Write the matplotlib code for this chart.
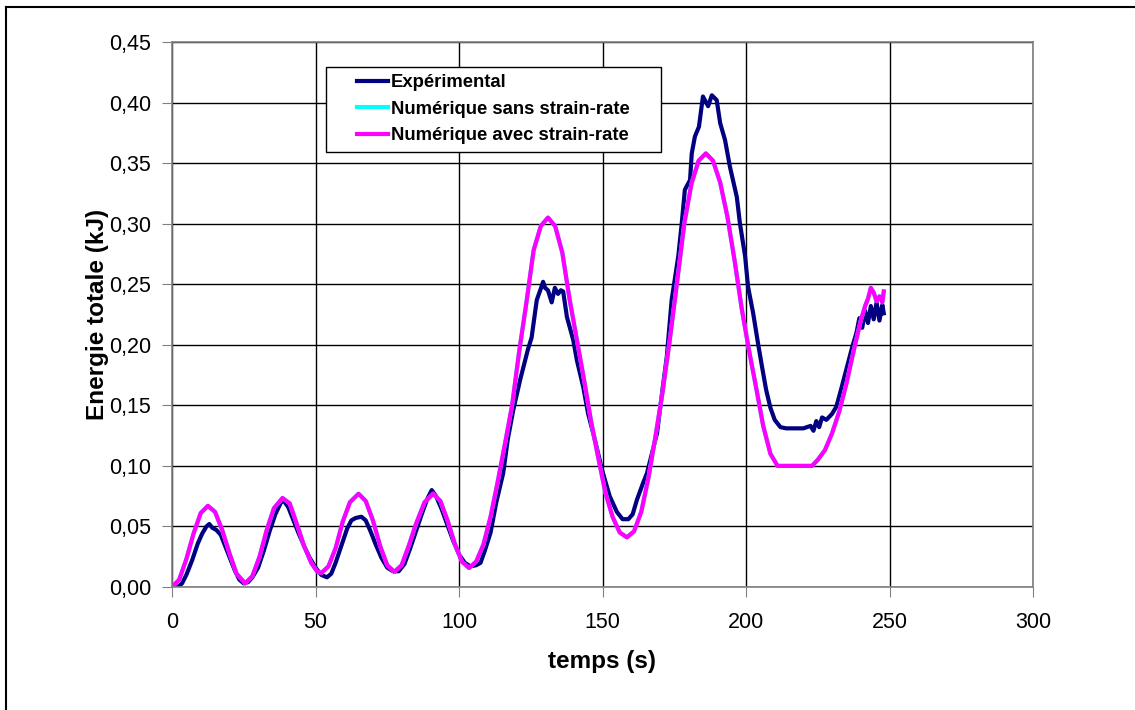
import numpy as np
import matplotlib.pyplot as plt
from matplotlib.lines import Line2D
from matplotlib.patches import Rectangle

plt.rcParams['font.family'] = ['Liberation Sans', 'DejaVu Sans']

# Experimental curve: (temps s, energie kJ)
exp_pts = [(0, 0.0), (2, 0.0), (3.5, 0.003), (5, 0.010), (7, 0.022), (9, 0.036),
           (10.5, 0.044), (12, 0.050), (13, 0.052), (14, 0.049), (15.5, 0.047),
           (17, 0.043), (18.5, 0.034), (20, 0.025), (22, 0.013), (23.5, 0.006),
           (25, 0.003), (26.5, 0.004), (28, 0.008), (30, 0.016), (32, 0.030),
           (34, 0.046), (36, 0.060), (38, 0.070), (39, 0.071), (40.5, 0.066),
           (42, 0.057), (44, 0.045), (46, 0.034), (48, 0.024), (50, 0.016),
           (52, 0.010), (54, 0.008), (55.5, 0.011), (57, 0.020), (59, 0.034),
           (61, 0.048), (62.5, 0.055), (64, 0.057), (66, 0.058), (67.5, 0.055),
           (69, 0.047), (71, 0.035), (73, 0.024), (75, 0.016), (77, 0.013),
           (79, 0.013), (81, 0.019), (83, 0.032), (85, 0.046), (87, 0.060),
           (89, 0.073), (90.5, 0.080), (92, 0.075), (94, 0.064), (96, 0.051),
           (98, 0.038), (100, 0.027), (102, 0.020), (104, 0.017), (106, 0.018),
           (107.5, 0.020), (109, 0.030), (111, 0.045), (113, 0.070), (115.4, 0.094),
           (117, 0.122), (118.9, 0.146), (121.3, 0.171), (124, 0.196), (125.3, 0.206),
           (127.1, 0.237), (128.3, 0.245), (129.3, 0.252), (130, 0.247), (131, 0.245),
           (132.3, 0.235), (133.4, 0.247), (134.5, 0.242), (135.5, 0.245),
           (136.3, 0.244), (137.6, 0.223), (139.8, 0.204), (141.1, 0.187),
           (143.3, 0.165), (145, 0.143), (147.4, 0.121), (149.8, 0.097),
           (152.5, 0.075), (155, 0.062), (157, 0.056), (159, 0.056), (160.5, 0.060),
           (162, 0.072), (164, 0.085), (165.5, 0.094), (167, 0.108), (169, 0.127),
           (171, 0.165), (172.4, 0.190), (174.1, 0.237), (176.4, 0.273),
           (177.6, 0.300), (178.7, 0.328), (180.5, 0.336), (181.1, 0.358),
           (182.2, 0.372), (183.6, 0.380), (185, 0.405), (186.8, 0.397),
           (188.1, 0.406), (189.8, 0.402), (191, 0.383), (192.7, 0.369),
           (194.4, 0.347), (196.8, 0.322), (197.9, 0.300), (199.7, 0.273),
           (200.7, 0.248), (202.5, 0.226), (204.2, 0.201), (205.5, 0.183),
           (207, 0.163), (208.5, 0.148), (210, 0.138), (212, 0.132), (214, 0.131),
           (217, 0.131), (220, 0.131), (222.5, 0.133), (223.5, 0.129),
           (224.5, 0.137), (225.5, 0.132), (226.5, 0.140), (228, 0.138),
           (230, 0.143), (231.5, 0.149), (233, 0.162), (235, 0.180), (237, 0.198),
           (238.5, 0.210), (239.5, 0.222), (240.5, 0.214), (241.5, 0.228),
           (242.5, 0.218), (243.5, 0.232), (244.5, 0.221), (245.5, 0.235),
           (246.5, 0.220), (247.5, 0.233), (248, 0.226)]

# Numerical curve (sans / avec strain-rate overlap)
num_pts = [(0, 0.0), (2.5, 0.006), (5, 0.023), (7.5, 0.044), (10, 0.061),
           (12.5, 0.067), (15, 0.062), (17.5, 0.047), (20, 0.028), (22.5, 0.011),
           (25.5, 0.003), (28, 0.009), (30.5, 0.025), (33, 0.047), (35.5, 0.065),
           (38.5, 0.0735), (41, 0.069), (43.5, 0.052), (46, 0.034), (48.5, 0.020),
           (50.5, 0.013), (52, 0.0115), (54.5, 0.017), (57, 0.032), (59.5, 0.054),
           (62, 0.070), (65, 0.077), (67.5, 0.071), (70, 0.055), (72.5, 0.034),
           (75, 0.018), (77.5, 0.0125), (80, 0.018), (82.5, 0.034), (85, 0.052),
           (88, 0.070), (91, 0.077), (93.5, 0.071), (96, 0.055), (98.5, 0.036),
           (101, 0.021), (103.5, 0.0157), (106, 0.021), (108.5, 0.035), (111, 0.058),
           (113.5, 0.087), (116, 0.118), (118.5, 0.150), (121, 0.195), (123.5, 0.235),
           (126, 0.278), (128.5, 0.298), (131, 0.305), (133.5, 0.298), (136, 0.276),
           (138.5, 0.238), (141, 0.205), (143.5, 0.172), (146, 0.137), (148.5, 0.107),
           (151, 0.078), (153.5, 0.058), (156, 0.045), (158.5, 0.041), (161, 0.046),
           (163.5, 0.062), (166, 0.090), (168.5, 0.125), (171, 0.162), (173.5, 0.205),
           (176, 0.252), (178.5, 0.300), (181, 0.333), (183.5, 0.352), (186, 0.358),
           (188.5, 0.352), (191, 0.334), (193.5, 0.306), (196, 0.270), (198.5, 0.230),
           (201, 0.196), (203.5, 0.165), (206, 0.133), (208.5, 0.110), (211, 0.100),
           (214, 0.100), (217, 0.100), (220, 0.100), (223, 0.100), (225, 0.105),
           (227.5, 0.113), (230, 0.127), (232.5, 0.145), (235, 0.168), (237.5, 0.195),
           (240, 0.220), (241.5, 0.232), (242.5, 0.238), (243.5, 0.247),
           (244.5, 0.243), (245.5, 0.236), (246.5, 0.240), (247.5, 0.235), (248, 0.244)]

t_exp, e_exp = zip(*exp_pts)
t_num, e_num = zip(*num_pts)

fig = plt.figure(figsize=(11.35, 7.10), dpi=100)
ax = fig.add_axes([172 / 1135, 1 - 587 / 710, (1033 - 172) / 1135, (587 - 42) / 710])

ax.plot(t_exp, e_exp, color='#000080', lw=3, label='Expérimental')
ax.plot(t_num, e_num, color='#00FFFF', lw=3, label='Numérique sans strain-rate')
ax.plot(t_num, e_num, color='#FF00FF', lw=3, label='Numérique avec strain-rate')

ax.set_xlim(0, 300)
ax.set_ylim(0, 0.45)
ax.set_xticks(np.arange(0, 301, 50))
yt = np.arange(0, 0.451, 0.05)
ax.set_yticks(yt)
ax.set_yticklabels([f'{v:.2f}'.replace('.', ',') for v in yt])
ax.grid(True, color='black', lw=1)
ax.set_axisbelow(True)
for s in ax.spines.values():
    s.set_color('#808080')
    s.set_linewidth(1.2)
ax.tick_params(direction='out', length=7, color='#808080', labelsize=15.5)
ax.tick_params(axis='y', pad=8)
ax.tick_params(axis='x', pad=11)

ax.set_xlabel('temps (s)', fontsize=17.5, fontweight='bold', labelpad=12)
ax.set_ylabel('Energie totale (kJ)', fontsize=17.5, fontweight='bold', labelpad=0)

# legend box drawn by hand (wide side margins as in the original)
W, H = 861, 545
box = Rectangle(((326 - 172) / W, (587 - 152) / H), (661 - 326) / W, (152 - 67) / H,
                transform=ax.transAxes, facecolor='white', edgecolor='black',
                lw=1, zorder=4)
ax.add_patch(box)
leg = ax.legend(loc='upper left', bbox_to_anchor=((357 - 172) / W, 1 - (74 - 42) / H),
                frameon=False, prop={'weight': 'bold', 'size': 13.3},
                handlelength=1.7, handletextpad=0.15, borderpad=0,
                labelspacing=0.52, borderaxespad=0)
leg.set_zorder(5)

# cadre de la figure (gauche et haut)
fig.add_artist(Line2D([6 / 1135, 6 / 1135], [0, 1 - 7 / 710], color='black', lw=1.5))
fig.add_artist(Line2D([6 / 1135, 1], [1 - 7 / 710, 1 - 7 / 710], color='black', lw=1.5))

fig.savefig('out.png', dpi=100)
